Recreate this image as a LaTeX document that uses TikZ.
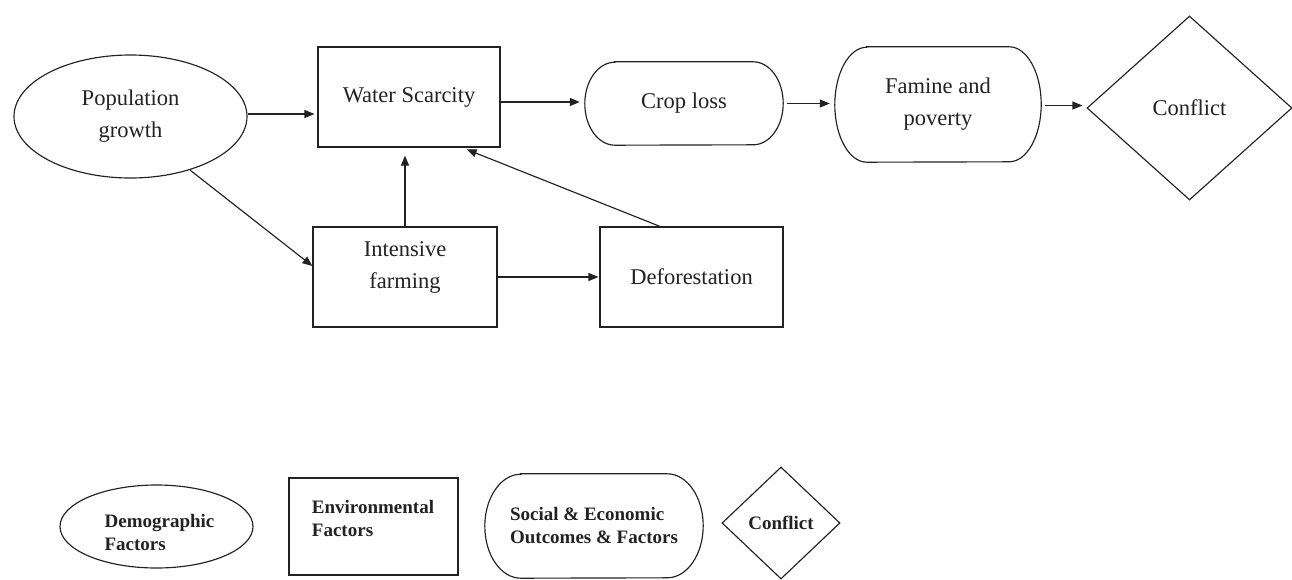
\documentclass[tikz,border=0pt]{standalone}
\usepackage{fontspec}
\setmainfont{Liberation Serif}
\usetikzlibrary{shapes.geometric,arrows.meta,calc}

\definecolor{ink}{HTML}{222222}

% outline of a capsule: straight top and bottom, elliptical ends
\newcommand\drawcapsule[3]{%
  \draw[outline] ($(#1.north west)+(#2,0)$) -- ($(#1.north east)+(-#2,0)$)
    arc[start angle=90,end angle=-90,x radius=#2,y radius=#3]
    -- ($(#1.south west)+(#2,0)$)
    arc[start angle=270,end angle=90,x radius=#2,y radius=#3] -- cycle;}

\begin{document}
\begin{tikzpicture}[x=1pt,y=-1pt,
  outline/.style={draw=ink,line width=1.15pt},
  txt/.style={font=\fontsize{22.5}{32}\selectfont,text=ink,align=center,inner sep=0pt},
  keytxt/.style={font=\fontsize{19}{23}\selectfont\bfseries,text=ink,align=left,inner sep=0pt},
  ovalnode/.style={ellipse,outline},
  boxnode/.style={rectangle,outline},
  pillnode/.style={rectangle},
  choice/.style={diamond,outline,aspect=1},
  arr/.style={draw=ink,line width=1.15pt,-{Triangle[length=10pt,width=8pt]}}]

\useasboundingbox (0,0) rectangle (1292,579);
\fill[white] (0,0) rectangle (1292,579);

% ---- causal chain ----
\node[txt,ovalnode,minimum width=233,minimum height=123] (pop) at (130.5,116.5) {Population\\growth};
\node[txt,boxnode,minimum width=182,minimum height=100] (ws) at (409,97) {Water Scarcity};
\node[txt,pillnode,minimum width=198,minimum height=83] (crop) at (684,103.5) {Crop loss};
\node[txt,pillnode,minimum width=206,minimum height=115] (fam) at (938,104.5) {Famine and\\poverty};
\node[txt,choice,minimum width=205,minimum height=184] (conf) at (1189.5,108) {Conflict};
\node[boxnode,minimum width=184,minimum height=100] (farm) at (405,277) {};
\node[txt] (farmtext) at (405,267) {Intensive\\farming};
\node[txt,boxnode,minimum width=183,minimum height=100] (def) at (691.5,277) {Deforestation};

\drawcapsule{crop}{30pt}{41.5pt}
\drawcapsule{fam}{32pt}{57.5pt}

\draw[arr,shorten >=3pt] ([yshift=2.5pt]pop.east) -- ([yshift=2.5pt]pop.east -| ws.west);
\draw[arr,shorten >=5pt] ([yshift=-5pt]ws.east) -- ([yshift=-5pt]ws.east -| crop.west);
\draw[arr,shorten <=4pt,shorten >=5pt] (crop.east) -- (crop.east -| fam.west);
\draw[arr,shorten <=4pt,shorten >=4pt] ([yshift=-1pt]fam.east) -- ([yshift=-1pt]fam.east -| conf.west);
\draw[arr] (pop.-42) -- ([yshift=11pt]farm.west);
\draw[arr,shorten >=8pt] (farm.north) -- (farm.north |- ws.south);
\draw[arr,shorten >=1pt] (farm.east) -- (def.west);
\draw[arr,shorten >=5pt] ([xshift=-31.5pt]def.north) -- ([xshift=53pt]ws.south);

% ---- key ----
\node[ovalnode,minimum width=193,minimum height=83] (kdemo) at (156.5,526.5) {};
\node[keytxt] (kdemotext) at (159.5,532) {Demographic\\Factors};
\node[boxnode,minimum width=169,minimum height=97] (kenv) at (373.5,526.5) {};
\node[keytxt] (kenvtext) at (373,518) {Environmental\\Factors};
\node[keytxt,pillnode,minimum width=218,minimum height=104] (ksoc) at (594,526) {Social \& Economic\\Outcomes \& Factors};
\node[keytxt,choice,minimum width=118,minimum height=112] (kconf) at (781,523) {Conflict};
\drawcapsule{ksoc}{36pt}{52pt}

\end{tikzpicture}
\end{document}
